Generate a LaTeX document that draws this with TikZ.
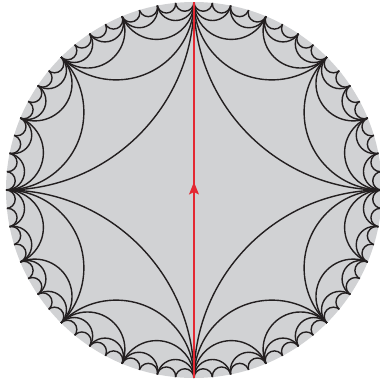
\documentclass[tikz,border=0pt]{standalone}
\usetikzlibrary{arrows.meta,calc}
\definecolor{diskgray}{RGB}{209,210,212}
\definecolor{geored}{RGB}{228,40,50}
\definecolor{geoblack}{RGB}{35,31,32}
\begin{document}
\begin{tikzpicture}[x=1pt,y=1pt,
  geo/.style={draw=geoblack, line width=1.4pt},
  redline/.style={draw=geored, line width=1.9pt},
  redfill/.style={fill=geored, draw=none}]
\useasboundingbox (-194,-194) rectangle (186,190);
\fill[diskgray] (0,0) circle[radius=188];
\begin{scope}
\clip (0,0) circle[radius=188];
\foreach \n/\hd/\rad/\cd in {4/45/188/265.872, 8/22.5/77.872/203.49, 16/11.25/37.396/191.683, 32/5.625/18.516/188.910, 64/2.8125/9.235/188.227} {
  \pgfmathtruncatemacro{\lastidx}{\n-1}
  \foreach \i in {0,...,\lastidx} {
    \pgfmathsetmacro{\ma}{\hd*(2*\i+1)}
    \path[geo] (\ma:\cd) circle[radius=\rad];
  }
}
\end{scope}
\coordinate (N) at (0,188);
\coordinate (S) at (0,-188);
\draw[redline] (S) -- (N);
\coordinate (arrowtip) at (0,8);
\fill[redfill] (arrowtip) -- ++(-5,-12.5) -- ++(5,2.5) -- ++(5,-2.5) -- cycle;
\end{tikzpicture}
\end{document}
